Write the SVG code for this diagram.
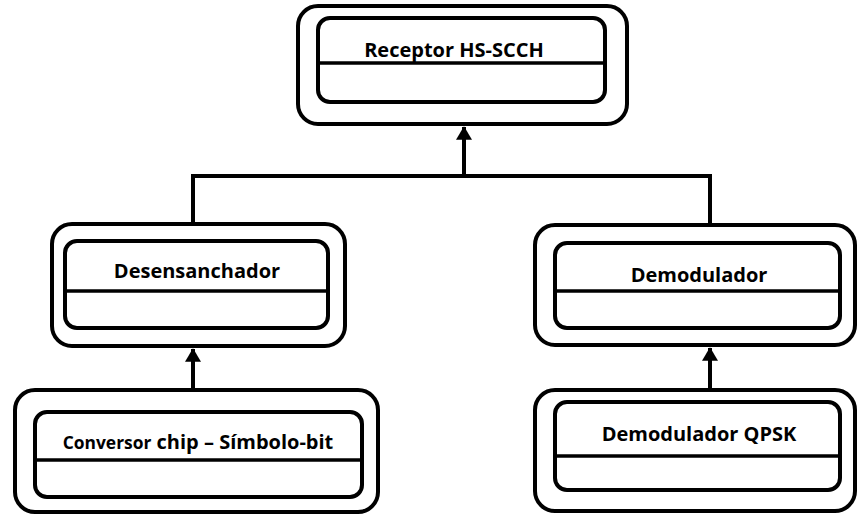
<svg xmlns="http://www.w3.org/2000/svg" width="857" height="514" viewBox="0 0 857 514">
<defs>
<style>
.outer{fill:#fff;stroke:#000;stroke-width:4}
.inner{fill:#fff;stroke:#000;stroke-width:4}
.div{stroke:#000;stroke-width:3.5}
.lbl{font-family:"Open Sans","Liberation Sans",sans-serif;font-weight:bold;font-size:20px;fill:#000;text-anchor:middle}
.conn{stroke:#000;stroke-width:4;fill:none}
</style>
<marker id="arr" markerWidth="4" markerHeight="4" refX="3.2" refY="2" orient="auto" markerUnits="strokeWidth">
<path d="M0,0 L3.4,2 L0,4 Z" fill="#000"/>
</marker>
</defs>
<rect width="857" height="514" fill="#fff"/>
<g id="connectors">
<polyline class="conn" points="193,224 193,176 710,176 710,224"/>
<line class="conn" x1="464" y1="178" x2="464" y2="127" marker-end="url(#arr)"/>
<line class="conn" x1="193" y1="389" x2="193" y2="349" marker-end="url(#arr)"/>
<line class="conn" x1="710" y1="389" x2="710" y2="348" marker-end="url(#arr)"/>
</g>
<g id="receptor">
<rect class="outer" x="298" y="6" width="329" height="118" rx="20"/>
<rect class="inner" x="318" y="18" width="287" height="84" rx="12"/>
<line class="div" x1="318" y1="63" x2="605" y2="63"/>
<text class="lbl" x="454" y="57">Receptor HS-SCCH</text>
</g>
<g id="desensanchador">
<rect class="outer" x="52" y="224" width="293" height="122" rx="20"/>
<rect class="inner" x="65" y="241" width="263" height="87" rx="12"/>
<line class="div" x1="65" y1="291" x2="328" y2="291"/>
<text class="lbl" x="197" y="278">Desensanchador</text>
</g>
<g id="demodulador">
<rect class="outer" x="535" y="225" width="320" height="120" rx="20"/>
<rect class="inner" x="555" y="243" width="285" height="85" rx="12"/>
<line class="div" x1="555" y1="291" x2="840" y2="291"/>
<text class="lbl" x="699" y="282">Demodulador</text>
</g>
<g id="conversor">
<rect class="outer" x="15" y="390" width="363" height="122" rx="20"/>
<rect class="inner" x="35" y="412" width="327" height="85" rx="12"/>
<line class="div" x1="35" y1="460" x2="362" y2="460"/>
<text class="lbl" x="198" y="449" font-size="20.4px"><tspan font-size="17.4px">Conversor</tspan> chip – Símbolo-bit</text>
</g>
<g id="demodulador-qpsk">
<rect class="outer" x="535" y="390" width="320" height="121" rx="20"/>
<rect class="inner" x="555" y="402" width="285" height="88" rx="12"/>
<line class="div" x1="555" y1="456" x2="840" y2="456"/>
<text class="lbl" x="699" y="441">Demodulador QPSK</text>
</g>
</svg>
